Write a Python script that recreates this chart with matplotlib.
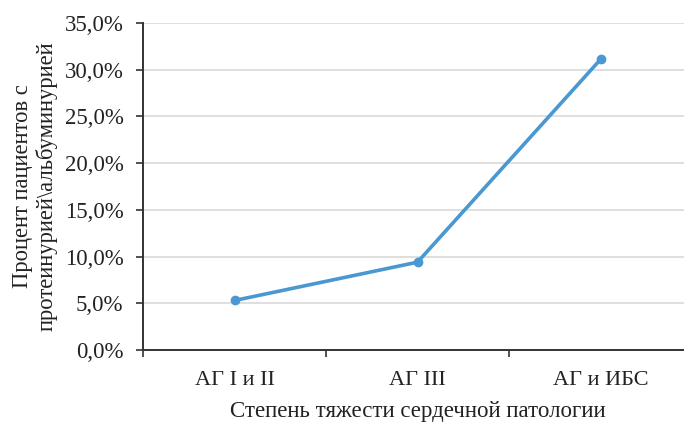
import matplotlib
matplotlib.use("Agg")
import matplotlib.pyplot as plt
from matplotlib.ticker import FuncFormatter, FixedLocator

categories = ["АГ I и II", "АГ III", "АГ и ИБС"]
values = [5.3, 9.4, 31.1]
y_ticks = [0, 5, 10, 15, 20, 25, 30, 35]

plt.rcParams["font.family"] = ["Liberation Serif", "DejaVu Serif"]

fig = plt.figure(figsize=(6.84, 4.23), dpi=100)
ax = fig.add_axes([143 / 684, 73 / 423, 549 / 684, 327 / 423])

x = list(range(len(categories)))
ax.plot(x, values, color="#4A98D2", lw=2.6, marker="o", ms=6,
        solid_capstyle="round", zorder=3, clip_on=False)

ax.set_xlim(-0.5, len(categories) - 0.5)
ax.set_ylim(0, 35)
ax.set_yticks(y_ticks)
ax.yaxis.set_major_formatter(FuncFormatter(lambda v, p: f"{v:.1f}%".replace(".", ",")))
ax.grid(axis="y", color="#D9D9D9", lw=1.2)
ax.set_axisbelow(True)

ax.set_xticks(x)
ax.set_xticklabels(categories)
ax.xaxis.set_minor_locator(FixedLocator([i - 0.5 for i in range(len(categories) + 1)]))
ax.tick_params(axis="x", which="major", length=0, pad=15, labelsize=16, colors="#222222")
ax.tick_params(axis="x", which="minor", length=5, width=1.2, color="#333333")
ax.tick_params(axis="y", length=5, width=1.2, color="#333333", labelsize=16.5,
               labelcolor="#222222", pad=9)

for s in ("top", "right"):
    ax.spines[s].set_visible(False)
for s in ("left", "bottom"):
    ax.spines[s].set_color("#333333")
    ax.spines[s].set_linewidth(1.4)

ax.set_xlabel("Степень тяжести сердечной патологии", fontsize=16.5, color="#222222", labelpad=8)
ax.set_ylabel("Процент пациентов с\nпротеинурией\\альбуминурией", fontsize=16.3,
              color="#222222", linespacing=1.15, labelpad=5)

fig.savefig("out.png", dpi=100)
